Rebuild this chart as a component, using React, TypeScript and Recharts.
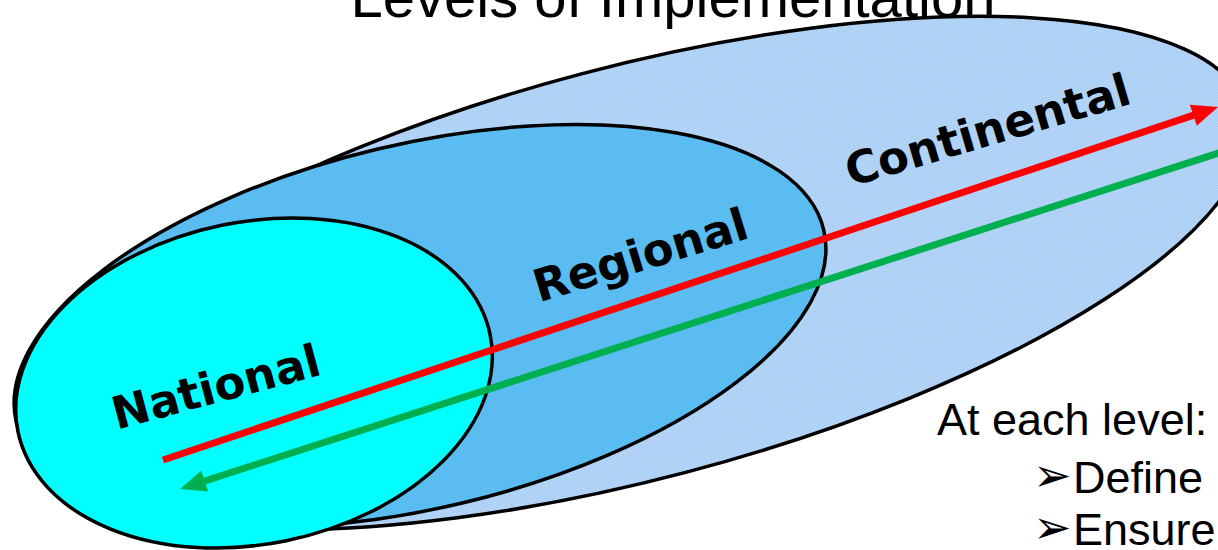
import { ComposedChart, Scatter, XAxis, YAxis } from "recharts"

const W = 1218
const H = 550

// nested levels (outer -> inner) in plot units
const levels = ["Continental", "Regional", "National"]
const levelCx = [634, 420, 254]
const levelCy = [273, 326, 383]
const levelRx = [634, 415, 241]
const levelRy = [206, 182, 161]
const levelTilt = [14.8, 13.4, 11.6]

// where each level name sits (baseline centre) and its slant
const labelX = [992, 645, 220]
const labelY = [145, 270, 402]
const labelTilt = [16.5, 17, 15]

// the two arrows: tail -> tip
const arrowNames = ["up", "down"]
const arrowFromX = [163, 1228]
const arrowFromY = [460, 150]
const arrowToX = [1218, 180]
const arrowToY = [107, 489]

const title = "Levels of Implementation"
const titleX = 673
const titleY = 17

const noteLines = ["At each level:", "Define", "Ensure"]
const noteX = [937, 1035, 1035]
const noteY = [435, 493, 545]

const ellipseData = levels.map((name, i) => ({
  name,
  x: levelCx[i],
  y: levelCy[i],
  rx: levelRx[i],
  ry: levelRy[i],
  tilt: levelTilt[i],
}))
const labelData = levels.map((name, i) => ({ name, x: labelX[i], y: labelY[i], tilt: labelTilt[i] }))
const arrowData = arrowNames.map((name, i) => ({
  name,
  x: arrowFromX[i],
  y: arrowFromY[i],
  tx: arrowToX[i],
  ty: arrowToY[i],
}))
const noteData = noteLines.map((text, i) => ({ text, bullet: i > 0, x: noteX[i], y: noteY[i] }))
const titleData = [{ text: title, x: titleX, y: titleY }]

// pixels per plot unit (domains below span the full chart)
const SX = W / W
const SY = H / H

const DITHER: Record<string, [string, string]> = {
  Continental: ["#9cc5f1", "#c4dffa"],
  Regional: ["#45b0ec", "#70c8f6"],
  National: ["#00ffff", "#00ffff"],
}
const ARROW_COLOR: Record<string, string> = { up: "#ff0000", down: "#00b050" }

const SANS = "'Liberation Sans', Arial, sans-serif"
const BOLD = "'DejaVu Sans', Verdana, sans-serif"

function EllipseShape(props: any) {
  const { cx, cy, payload } = props
  const [c0, c1] = DITHER[payload.name]
  const id = `dither-${payload.name}`
  return (
    <g>
      <defs>
        <pattern id={id} patternUnits="userSpaceOnUse" x={0} y={0} width={2} height={2}>
          <rect width={2} height={2} fill={c0} />
          <rect width={1} height={1} fill={c1} />
          <rect x={1} y={1} width={1} height={1} fill={c1} />
        </pattern>
      </defs>
      <ellipse
        cx={cx}
        cy={cy}
        rx={payload.rx * SX}
        ry={payload.ry * SY}
        transform={`rotate(${-payload.tilt} ${cx} ${cy})`}
        fill={`url(#${id})`}
        stroke="#000"
        strokeWidth={3.5}
      />
    </g>
  )
}

function ArrowShape(props: any) {
  const { cx, cy, payload } = props
  const color = ARROW_COLOR[payload.name]
  const tipX = cx + (payload.tx - payload.x) * SX
  const tipY = cy + (payload.ty - payload.y) * SY
  const dx = tipX - cx
  const dy = tipY - cy
  const len = Math.hypot(dx, dy)
  const ux = dx / len
  const uy = dy / len
  const head = 26
  const half = 11
  const bx = tipX - ux * head
  const by = tipY - uy * head
  const pts = [
    `${tipX},${tipY}`,
    `${bx - uy * half},${by + ux * half}`,
    `${bx + uy * half},${by - ux * half}`,
  ].join(" ")
  return (
    <g>
      <line x1={cx} y1={cy} x2={bx + ux * 2} y2={by + uy * 2} stroke={color} strokeWidth={7} />
      <polygon points={pts} fill={color} />
    </g>
  )
}

function LevelLabel(props: any) {
  const { cx, cy, payload } = props
  return (
    <text
      x={cx}
      y={cy}
      textAnchor="middle"
      transform={`rotate(${-payload.tilt} ${cx} ${cy})`}
      fontFamily={BOLD}
      fontWeight="bold"
      fontSize={45}
      fill="#000"
    >
      {payload.name}
    </text>
  )
}

function NoteLine(props: any) {
  const { cx, cy, payload } = props
  if (!payload.bullet) {
    return (
      <text x={cx} y={cy} fontFamily={SANS} fontSize={45} fill="#000">
        {payload.text}
      </text>
    )
  }
  return (
    <g fill="#000">
      <text x={cx - 2} y={cy - 2} fontFamily={BOLD} fontSize={46}>➢</text>
      <text x={cx + 38} y={cy} fontFamily={SANS} fontSize={45}>{payload.text}</text>
    </g>
  )
}

function TitleText(props: any) {
  const { cx, cy, payload } = props
  return (
    <text x={cx} y={cy} textAnchor="middle" fontFamily={SANS} fontSize={58} fill="#000">
      {payload.text}
    </text>
  )
}

export default function App() {
  return (
    <div style={{ position: "absolute", left: 0, top: 0, width: W, height: H, background: "#fff" }}>
      <ComposedChart width={W} height={H} margin={{ top: 0, right: 0, bottom: 0, left: 0 }}>
        <XAxis hide type="number" dataKey="x" domain={[0, W]} allowDataOverflow />
        <YAxis hide type="number" dataKey="y" domain={[0, H]} reversed allowDataOverflow />
        <Scatter data={titleData} dataKey="y" shape={TitleText} isAnimationActive={false} />
        <Scatter data={ellipseData} dataKey="y" shape={EllipseShape} isAnimationActive={false} />
        <Scatter data={arrowData} dataKey="y" shape={ArrowShape} isAnimationActive={false} />
        <Scatter data={labelData} dataKey="y" shape={LevelLabel} isAnimationActive={false} />
        <Scatter data={noteData} dataKey="y" shape={NoteLine} isAnimationActive={false} />
      </ComposedChart>
    </div>
  )
}
